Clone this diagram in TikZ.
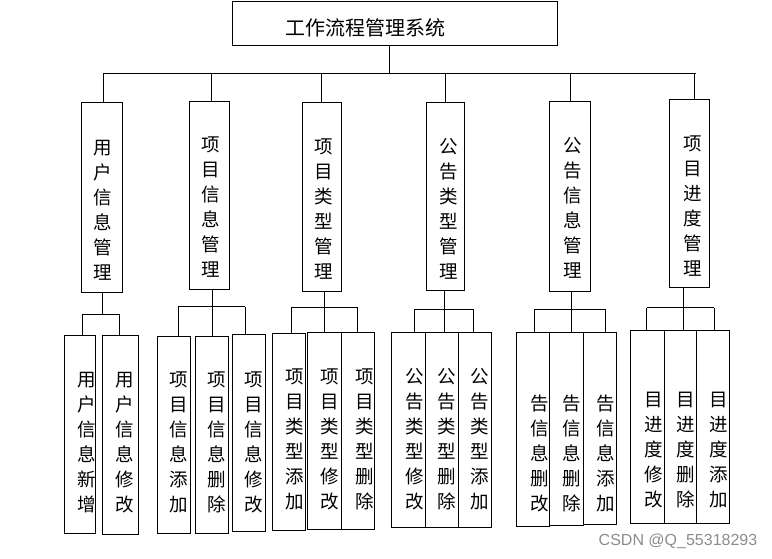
\documentclass[tikz,border=0pt]{standalone}
\usepackage{fontspec}
\newfontfamily\cjk{Noto Sans CJK SC}
\setsansfont{Liberation Sans}
\tikzset{
  box/.style={draw, line width=1pt, inner sep=0pt},
  con/.style={line width=1pt},
  vtxt/.style={font=\cjk\fontsize{18.5}{25}\selectfont, align=center, inner sep=0pt},
}
\newcommand\bx[5]{\node[box, minimum width={(#4-#2)*1pt}, minimum height={(#5-#3)*1pt}] (#1) at ({(#2+#4)/2*1pt},{-(#3+#5)/2*1pt}) {};}
\newcommand\vt[4]{\node[vtxt] (#1) at (#2pt,-#3pt) {#4};}
\begin{document}
\begin{tikzpicture}
\useasboundingbox (0,0) rectangle (772pt,-559pt);
% boxes
\bx{top}{232.5}{1.7}{557.6}{46}
\bx{p1}{81.7}{102.3}{122.3}{292}
\bx{p2}{189.3}{101.3}{229.3}{289.3}
\bx{p3}{302.3}{102.7}{341.3}{291.3}
\bx{p4}{426.7}{102.7}{464.3}{290.3}
\bx{p5}{549.3}{101.7}{590.3}{291.3}
\bx{p6}{669.3}{99.7}{709.3}{287.3}
\bx{A}{64.3}{335.3}{95.7}{533}
\bx{B}{102.3}{335.3}{138.3}{534.3}
\bx{C}{157.3}{336.7}{190}{533}
\bx{D}{195.3}{336.7}{228.3}{533}
\bx{E}{232.7}{334.3}{265.7}{531.3}
\bx{F}{272.7}{333.3}{305.7}{530}
\bx{G}{307.7}{332.3}{341.7}{529}
\bx{H}{341.7}{332.3}{374.3}{529}
\bx{I}{391.7}{332.3}{425.7}{527.3}
\bx{J}{425.7}{332.3}{458.7}{527.3}
\bx{K}{458.7}{332.3}{491.7}{527.3}
\bx{L}{516.7}{332.3}{549.7}{526.3}
\bx{M}{549.7}{332.3}{583.3}{525.3}
\bx{N}{583.3}{332.3}{616.3}{524.3}
\bx{O}{630.7}{330.7}{664.3}{523}
\bx{P}{664.3}{330.7}{696.3}{523}
\bx{Q}{696.3}{330.7}{729.3}{523}
% texts
\node[font=\cjk\fontsize{20}{24}\selectfont, inner sep=0pt] (title) at (365.7pt,-28pt) {工作流程管理系统};
\vt{t1}{103}{210.5}{用\\户\\信\\息\\管\\理}
\vt{t2}{211}{207.5}{项\\目\\信\\息\\管\\理}
\vt{t3}{324}{209}{项\\目\\类\\型\\管\\理}
\vt{t4}{449}{209}{公\\告\\类\\型\\管\\理}
\vt{t5}{572.5}{207.5}{公\\告\\信\\息\\管\\理}
\vt{t6}{692.5}{205.8}{项\\目\\进\\度\\管\\理}
\vt{tA}{86.7}{442.5}{用\\户\\信\\息\\新\\增}
\vt{tB}{124.8}{442.5}{用\\户\\信\\息\\修\\改}
\vt{tC}{179}{442.5}{项\\目\\信\\息\\添\\加}
\vt{tD}{216.7}{442.5}{项\\目\\信\\息\\删\\除}
\vt{tE}{254}{442.5}{项\\目\\信\\息\\修\\改}
\vt{tF}{295}{439.2}{项\\目\\类\\型\\添\\加}
\vt{tG}{330}{439.2}{项\\目\\类\\型\\修\\改}
\vt{tH}{364.3}{439.2}{项\\目\\类\\型\\删\\除}
\vt{tI}{414.3}{439.2}{公\\告\\类\\型\\修\\改}
\vt{tJ}{446.7}{439.2}{公\\告\\类\\型\\删\\除}
\vt{tK}{480}{439.2}{公\\告\\类\\型\\添\\加}
\vt{tL}{539.3}{453.3}{告\\信\\息\\删\\改}
\vt{tM}{571.7}{453.3}{告\\信\\息\\删\\除}
\vt{tN}{606}{453.3}{告\\信\\息\\添\\加}
\vt{tO}{653.3}{450}{目\\进\\度\\修\\改}
\vt{tP}{685.7}{450}{目\\进\\度\\删\\除}
\vt{tQ}{719}{450}{目\\进\\度\\添\\加}
\node[font=\sffamily\fontsize{16}{18}\selectfont, text=black!45, inner sep=0pt] (wm) at (678pt,-541.7pt) {CSDN @Q\_55318293};
% top level connectors
\coordinate (busL) at (103.3pt,-73.3pt);
\coordinate (busR) at (696pt,-73.3pt);
\coordinate (busM) at (389.6pt,-73.3pt);
\draw[con] (busM |- top.south) -- (busM);
\draw[con] (busL) -- (busR);
\coordinate (d1) at (103.3pt,-73.3pt);
\coordinate (d2) at (211.7pt,-73.3pt);
\coordinate (d3) at (321pt,-73.3pt);
\coordinate (d4) at (445.3pt,-73.3pt);
\coordinate (d5) at (570.7pt,-73.3pt);
\coordinate (d6) at (694.3pt,-73.3pt);
\foreach \i in {1,...,6} {\draw[con] (d\i) -- (d\i |- p\i.north);}
% group 1
\coordinate (g1m) at (102.3pt,-314pt);
\coordinate (g1l) at (82.3pt,-314pt);
\coordinate (g1r) at (119.3pt,-314pt);
\draw[con] (g1m |- p1.south) -- (g1m);
\draw[con] (g1l) -- (g1r);
\draw[con] (g1l) -- (g1l |- A.north);
\draw[con] (g1r) -- (g1r |- B.north);
% group 2
\coordinate (g2m) at (212.7pt,-306.7pt);
\coordinate (g2l) at (178.3pt,-306.7pt);
\coordinate (g2r) at (245.3pt,-306.7pt);
\draw[con] (g2m |- p2.south) -- (g2m |- D.north);
\draw[con] (g2l) -- (g2r);
\draw[con] (g2l) -- (g2l |- C.north);
\draw[con] (g2r) -- (g2r |- E.north);
% group 3
\coordinate (g3m) at (324.3pt,-307.3pt);
\coordinate (g3l) at (291.7pt,-307.3pt);
\coordinate (g3r) at (357.3pt,-307.3pt);
\draw[con] (g3m |- p3.south) -- (g3m |- G.north);
\draw[con] (g3l) -- (g3r);
\draw[con] (g3l) -- (g3l |- F.north);
\draw[con] (g3r) -- (g3r |- H.north);
% group 4
\coordinate (g4m) at (444.3pt,-309.3pt);
\coordinate (g4l) at (414.3pt,-309.3pt);
\coordinate (g4r) at (473.3pt,-309.3pt);
\draw[con] (g4m |- p4.south) -- (g4m |- J.north);
\draw[con] (g4l) -- (g4r);
\draw[con] (g4l) -- (g4l |- I.north);
\draw[con] (g4r) -- (g4r |- K.north);
% group 5
\coordinate (g5m) at (571.3pt,-309.3pt);
\coordinate (g5l) at (534.7pt,-309.3pt);
\coordinate (g5r) at (605.3pt,-309.3pt);
\draw[con] (g5m |- p5.south) -- (g5m |- M.north);
\draw[con] (g5l) -- (g5r);
\draw[con] (g5l) -- (g5l |- L.north);
\draw[con] (g5r) -- (g5r |- N.north);
% group 6
\coordinate (g6m) at (683pt,-307.7pt);
\coordinate (g6l) at (646.7pt,-307.7pt);
\coordinate (g6r) at (714.3pt,-307.7pt);
\draw[con] (g6m |- p6.south) -- (g6m |- P.north);
\draw[con] (g6l) -- (g6r);
\draw[con] (g6l) -- (g6l |- O.north);
\draw[con] (g6r) -- (g6r |- Q.north);
\end{tikzpicture}
\end{document}
